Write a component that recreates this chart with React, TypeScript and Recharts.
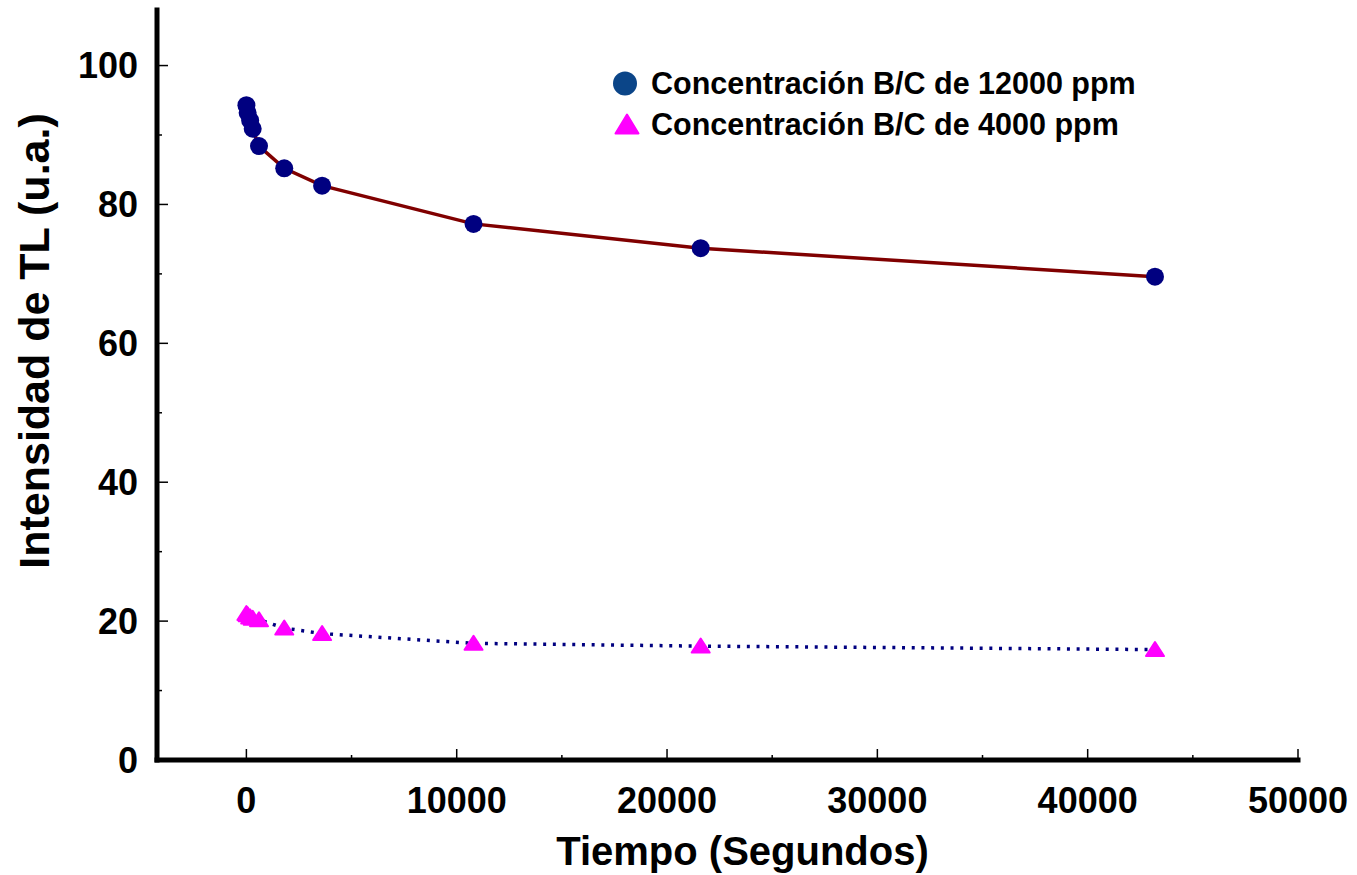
import { LineChart, Line, XAxis, YAxis, Legend } from "recharts"

// tiempo en segundos
const tiempo = [0, 60, 180, 300, 600, 1800, 3600, 10800, 21600, 43200]
const conc12000 = [94.3, 93.2, 92.1, 90.9, 88.4, 85.2, 82.7, 77.2, 73.7, 69.6]
const conc4000 = [21.1, 20.9, 20.6, 20.4, 20.2, 19.0, 18.2, 16.8, 16.4, 15.9]

const xTicks = [0, 5000, 10000, 15000, 20000, 25000, 30000, 35000, 40000, 45000, 50000]
const yTicks = [0, 10, 20, 30, 40, 50, 60, 70, 80, 90, 100]

const nombre12000 = "Concentración B/C de 12000 ppm"
const nombre4000 = "Concentración B/C de 4000 ppm"

const data = tiempo.map((t, i) => ({
  t,
  a: conc12000[i],
  b: conc4000[i],
}))

const FONT = "'Liberation Sans', Arial, sans-serif"

function BottomTick(props: any) {
  const { x, y, payload } = props
  const major = payload.value % 10000 === 0
  return (
    <g>
      <line x1={x} x2={x} y1={y} y2={y - (major ? 11 : 5)} stroke="#000" strokeWidth={1.5} />
      {major && (
        <text x={x} y={y + 40} dy="0.355em" textAnchor="middle" fontFamily={FONT} fontWeight={700} fontSize={36} fill="#000">
          {payload.value}
        </text>
      )}
    </g>
  )
}

function LeftTick(props: any) {
  const { x, y, payload } = props
  const major = payload.value % 20 === 0
  return (
    <g>
      <line x1={x} x2={x + (major ? 11 : 5)} y1={y} y2={y} stroke="#000" strokeWidth={1.5} />
      {major && (
        <text x={x - 19} y={y} dy="0.355em" textAnchor="end" fontFamily={FONT} fontWeight={700} fontSize={36} fill="#000">
          {payload.value}
        </text>
      )}
    </g>
  )
}

function RightTick(props: any) {
  const { x, y, payload } = props
  const major = payload.value % 20 === 0
  return <line x1={x} x2={x - (major ? 11 : 5)} y1={y} y2={y} stroke="#000" strokeWidth={1.5} />
}

function Triangle(props: any) {
  const { cx, cy } = props
  if (cx == null || cy == null) return null
  return (
    <path
      d={`M${cx},${cy - 7.5} L${cx + 9},${cy + 6.5} L${cx - 9},${cy + 6.5} Z`}
      fill="#ff00ff"
      stroke="#ff00ff"
      strokeWidth={2}
      strokeLinejoin="round"
    />
  )
}

function Leyenda() {
  const rows = [
    { name: nombre12000, kind: "circle" },
    { name: nombre4000, kind: "tri" },
  ]
  return (
    <div style={{ fontFamily: FONT, fontWeight: 700, fontSize: 30.5, color: "#000" }}>
      {rows.map((r) => (
        <div key={r.name} style={{ display: "flex", alignItems: "center", height: 41 }}>
          <svg width={50} height={41}>
            {r.kind === "circle" ? (
              <circle cx={25} cy={20.5} r={12} fill="#0b4588" />
            ) : (
              <path d="M27,10.5 L38.5,29.5 L15.5,29.5 Z" fill="#ff00ff" stroke="#ff00ff" strokeWidth={2} strokeLinejoin="round" />
            )}
          </svg>
          <span style={{ marginLeft: 1, whiteSpace: "nowrap" }}>{r.name}</span>
        </div>
      ))}
    </div>
  )
}

const axisLine = { stroke: "#000", strokeWidth: 5, strokeLinecap: "square" as const }

export default function App() {
  return (
    <div style={{ position: "absolute", left: 0, top: 0 }}>
      <LineChart
        width={1357}
        height={875}
        data={data}
        margin={{ top: 10, right: 59, left: 0, bottom: 0 }}
      >
        <XAxis
          dataKey="t"
          type="number"
          domain={[-4250, 50000]}
          ticks={xTicks}
          interval={0}
          height={115}
          tickSize={0}
          tickMargin={0}
          tickLine={false}
          axisLine={axisLine}
          tick={<BottomTick />}
          label={{
            content: (p: any) => {
              const vb = p.viewBox
              return (
                <text x={vb.x + vb.width / 2 + 15} y={851} dy="0.355em" textAnchor="middle" fontFamily={FONT} fontWeight={700} fontSize={40} fill="#000">
                  Tiempo (Segundos)
                </text>
              )
            },
          }}
        />
        <XAxis xAxisId="top" orientation="top" type="number" domain={[-4250, 50000]} height={0} tick={false} tickLine={false} axisLine={axisLine} />
        <YAxis
          type="number"
          domain={[0, 108]}
          ticks={yTicks}
          interval={0}
          width={157}
          tickSize={0}
          tickMargin={0}
          tickLine={false}
          axisLine={axisLine}
          tick={<LeftTick />}
          label={{
            content: (p: any) => {
              const vb = p.viewBox
              const cy = vb.y + vb.height / 2 - 44
              return (
                <text
                  x={34}
                  y={cy}
                  dy="0.355em"
                  textAnchor="middle"
                  transform={`rotate(-90, 34, ${cy})`}
                  fontFamily={FONT}
                  fontWeight={700}
                  fontSize={43}
                  fill="#000"
                >
                  Intensidad de TL (u.a.)
                </text>
              )
            },
          }}
        />
        <YAxis
          yAxisId="right"
          orientation="right"
          type="number"
          domain={[0, 108]}
          ticks={yTicks}
          interval={0}
          width={0}
          tickSize={0}
          tickMargin={0}
          tickLine={false}
          axisLine={axisLine}
          tick={<RightTick />}
        />
        <Legend
          layout="vertical"
          align="center"
          verticalAlign="middle"
          wrapperStyle={{ left: 600, top: 63, width: 620 }}
          content={() => <Leyenda />}
        />
        <Line
          name={nombre12000}
          dataKey="a"
          type="linear"
          stroke="#800000"
          strokeWidth={3.5}
          dot={{ r: 9, fill: "#000080", stroke: "#000080", strokeWidth: 0 }}
          activeDot={false}
          isAnimationActive={false}
        />
        <Line
          name={nombre4000}
          dataKey="b"
          type="linear"
          stroke="#000080"
          strokeWidth={3.5}
          strokeDasharray="3 6.7"
          dot={<Triangle />}
          activeDot={false}
          isAnimationActive={false}
        />
      </LineChart>
    </div>
  )
}
